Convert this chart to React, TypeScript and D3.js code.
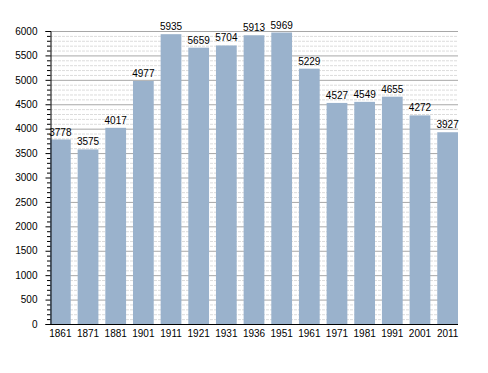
import { useEffect, useRef } from "react";
import * as d3 from "d3";

const years = ["1861", "1871", "1881", "1901", "1911", "1921", "1931", "1936", "1951", "1961", "1971", "1981", "1991", "2001", "2011"];
const population = [3778, 3575, 4017, 4977, 5935, 5659, 5704, 5913, 5969, 5229, 4527, 4549, 4655, 4272, 3927];
const yTicks = [0, 500, 1000, 1500, 2000, 2500, 3000, 3500, 4000, 4500, 5000, 5500, 6000];

export default function App() {
  const ref = useRef<SVGSVGElement>(null);

  useEffect(() => {
    const svg = d3.select(ref.current);
    svg.selectAll("*").remove();

    const x = d3.scaleBand().domain(years).range([50, 458]).paddingInner(0.25).paddingOuter(0);
    const y = d3.scaleLinear().domain([0, 6000]).range([324, 31]);

    const font = "Liberation Sans, Arial, sans-serif";

    // minor gridlines every 100
    const minor = d3.range(100, 6000, 100).filter(v => v % 500 !== 0);
    svg.append("g").selectAll("line").data(minor).join("line")
      .attr("x1", 50).attr("x2", 458)
      .attr("y1", d => y(d) + 0.5).attr("y2", d => y(d) + 0.5)
      .attr("stroke", "#dcdcdc").attr("stroke-width", 1)
      .attr("stroke-dasharray", "3,1");

    // major gridlines
    svg.append("g").selectAll("line").data(yTicks.filter(v => v > 0)).join("line")
      .attr("x1", 50).attr("x2", 458)
      .attr("y1", d => y(d) + 0.5).attr("y2", d => y(d) + 0.5)
      .attr("stroke", "#a8a8a8").attr("stroke-width", 1);

    // bars
    svg.append("g").selectAll("rect").data(years).join("rect")
      .attr("x", d => x(d)!)
      .attr("width", x.bandwidth())
      .attr("y", (d, i) => y(population[i]))
      .attr("height", (d, i) => y(0) - y(population[i]))
      .attr("fill", "#9ab2cc");

    // value labels
    svg.append("g").selectAll("text").data(years).join("text")
      .attr("x", d => x(d)! + x.bandwidth() / 2)
      .attr("y", (d, i) => y(population[i]) - 4)
      .attr("text-anchor", "middle")
      .attr("font-family", font).attr("font-size", 10)
      .attr("fill", "#000")
      .text((d, i) => population[i]);

    // y axis
    const yAxis = d3.axisLeft(y).tickValues(yTicks).tickSize(5).tickFormat(d => String(d));
    const ga = svg.append("g").attr("transform", "translate(50.5,0)").call(yAxis);
    ga.select(".domain").attr("stroke", "#000");
    ga.selectAll(".tick text").attr("font-family", font).attr("font-size", 10).attr("x", -13);
    // minor ticks on axis
    svg.append("g").selectAll("line").data(minor).join("line")
      .attr("x1", 47).attr("x2", 50.5)
      .attr("y1", d => y(d) + 0.5).attr("y2", d => y(d) + 0.5)
      .attr("stroke", "#000");

    // x axis
    const xAxis = d3.axisBottom(x).tickSize(0).tickPadding(5);
    const gx = svg.append("g").attr("transform", "translate(0,324.5)").call(xAxis);
    gx.select(".domain").attr("d", "M50,0H458").attr("stroke", "#000");
    gx.selectAll(".tick text").attr("font-family", font).attr("font-size", 10).attr("fill", "#000");
  }, []);

  return (
    <div>
      <svg ref={ref} width={488} height={373} style={{ display: "block", position: "absolute", left: 0, top: 0, background: "#fff" }} />
    </div>
  );
}
